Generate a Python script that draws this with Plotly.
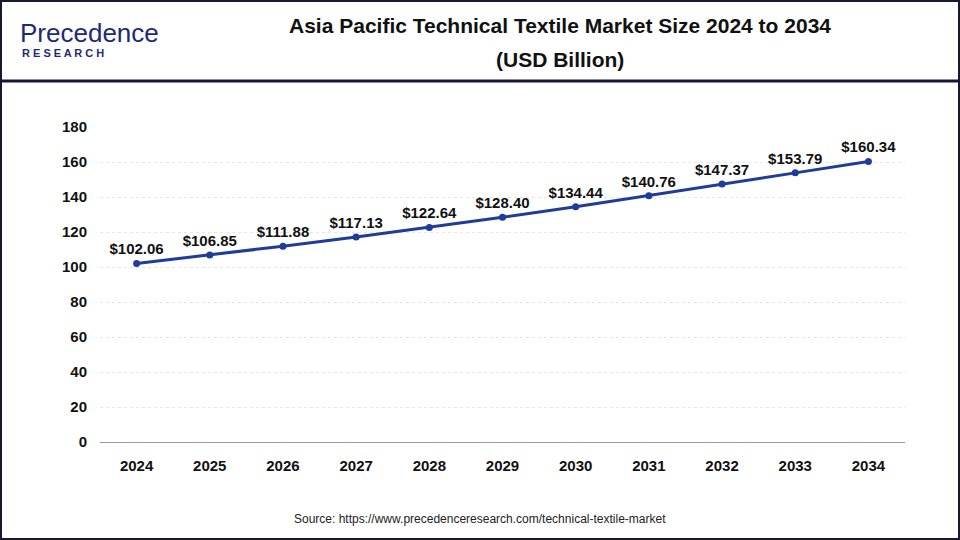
import plotly.graph_objects as go

years = ["2024","2025","2026","2027","2028","2029","2030","2031","2032","2033","2034"]
values = [102.06,106.85,111.88,117.13,122.64,128.40,134.44,140.76,147.37,153.79,160.34]
labels = ["$%.2f" % v for v in values]

W, H = 960, 540
L, R, T, B = 100, 55, 127, 98
pw, ph = W - L - R, H - T - B
def px(x): return (x - L) / pw
def py(y): return (H - B - y) / ph

fig = go.Figure(go.Scatter(
    x=years, y=values, mode="lines+markers+text",
    line=dict(color="#1f3c99", width=3), marker=dict(size=7, color="#1f3c99"),
    text=labels, textposition="top center",
    textfont=dict(family="Arial", size=15, color="#111", weight="bold"), cliponaxis=False))

def ann(x, y, text, size, color="#111", xanchor="center"):
    return dict(xref="paper", yref="paper", x=px(x), y=py(y), text=text, showarrow=False,
                xanchor=xanchor, yanchor="middle", font=dict(size=size, family="Arial", color=color))

fig.update_layout(
    width=W, height=H, margin=dict(l=L, r=R, t=T, b=B),
    paper_bgcolor="white", plot_bgcolor="white", showlegend=False,
    font=dict(family="Arial", color="#111"),
    xaxis=dict(type="category", range=[-0.5, 10.5], showgrid=False, showline=True,
               linecolor="#999", linewidth=1, ticks="", tickfont=dict(size=15, family="Arial", weight="bold"),
               ticklabelstandoff=10),
    yaxis=dict(range=[0, 180], dtick=20, showgrid=True, gridcolor="#e6e6e6", griddash="dot",
               zeroline=False, tickfont=dict(size=15, family="Arial", weight="bold"), ticklabelstandoff=12),
    shapes=[
        dict(type="rect", xref="paper", yref="paper", x0=px(1), x1=px(959), y0=py(539), y1=py(1),
             line=dict(color="#1a1a2e", width=2), fillcolor="rgba(0,0,0,0)", layer="above"),
        dict(type="line", xref="paper", yref="paper", x0=px(0), x1=px(960), y0=py(81), y1=py(81),
             line=dict(color="#14163a", width=3)),
    ],
    annotations=[
        ann(560, 25, "<b>Asia Pacific Technical Textile Market Size 2024 to 2034</b>", 21),
        ann(560, 59, "<b>(USD Billion)</b>", 21),
        ann(480, 519, "Source: https://www.precedenceresearch.com/technical-textile-market", 12, "#222"),
        ann(18, 33, "Precedence", 26, "#1e2a78", "left"),
        ann(20, 53, "<b>R E S E A R C H</b>", 11, "#1e2a78", "left"),
    ],
)
fig.write_html("out.html", config={"displayModeBar": False})
with open("out.html") as f:
    s = f.read()
s = s.replace("<head>", "<head><style>html,body{margin:0;padding:0;overflow:hidden}</style>", 1)
with open("out.html", "w") as f:
    f.write(s)
